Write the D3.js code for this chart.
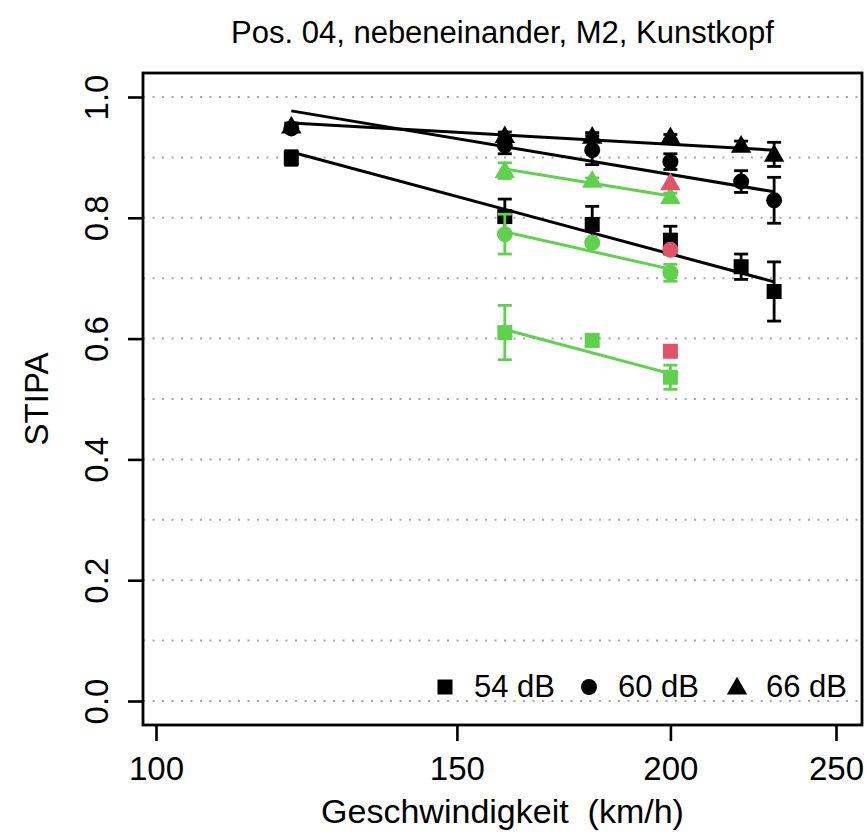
<!DOCTYPE html>
<html><head><meta charset="utf-8">
<script src="https://cdn.jsdelivr.net/npm/d3@7"></script>
<style>body{margin:0;background:#fff}svg{display:block}text{font-family:"Liberation Sans",Arial,sans-serif;fill:#000}</style>
</head><body><div id="chart"></div>
<script>
// ---- data ----
const title = "Pos. 04, nebeneinander, M2, Kunstkopf";
const xLabel = "Geschwindigkeit  (km/h)";
const yLabel = "STIPA";
const xTicks = [100, 150, 200, 250];
const yTicks = [0, 0.2, 0.4, 0.6, 0.8, 1.0];
const gridValues = [0, 0.1, 0.2, 0.3, 0.4, 0.5, 0.6, 0.7, 0.8, 0.9, 1.0];
const levels = ["54 dB", "60 dB", "66 dB"];
const shapes = ["square", "circle", "triangle"];

const blackSpeeds = [120, 160, 180, 200, 220, 230];
const black54 = [0.899, 0.802, 0.789, 0.763, 0.719, 0.678];
const black54Err = [0.012, 0.029, 0.030, 0.023, 0.021, 0.049];
const black60 = [0.948, 0.920, 0.912, 0.893, 0.860, 0.829];
const black60Err = [0.005, 0.014, 0.024, 0.013, 0.018, 0.038];
const black66 = [0.952, 0.936, 0.935, 0.934, 0.920, 0.905];
const black66Err = [0.005, 0.006, 0.006, 0.004, 0.007, 0.020];

const greenSpeeds = [160, 180, 200];
const green54 = [0.610, 0.597, 0.536];
const green54Err = [0.045, 0.004, 0.020];
const green60 = [0.773, 0.759, 0.709];
const green60Err = [0.033, 0.004, 0.014];
const green66 = [0.878, 0.862, 0.835];
const green66Err = [0.013, 0.004, 0.006];

const redSpeeds = [200];
const red54 = [0.579];
const red60 = [0.747];
const red66 = [0.858];

// fitted regression lines: values at first and last speed
const blackFitX = [120, 230];
const blackFit54 = [0.909, 0.694];
const blackFit60 = [0.977, 0.843];
const blackFit66 = [0.957, 0.912];
const greenFitX = [160, 200];
const greenFit54 = [0.615, 0.542];
const greenFit60 = [0.777, 0.715];
const greenFit66 = [0.881, 0.836];

// ---- layout ----
const W = 867, H = 836;
const box = {l: 143, r: 862, t: 73, b: 725};
const BLACK = "#000000", GREEN = "#61D04F", RED = "#DF536B";
const FONT = '"Liberation Sans",Arial,sans-serif';

const svg = d3.select("#chart").append("svg").attr("width", W).attr("height", H);
const x = d3.scaleLog().domain([100, 250]).range([156, 836]);
const y = d3.scaleLinear().domain([0, 1]).range([701, 97]);

// grid
svg.append("g").selectAll("line").data(gridValues).join("line")
  .attr("x1", box.l).attr("x2", box.r)
  .attr("y1", d => y(d)).attr("y2", d => y(d))
  .attr("stroke", "#a8a8a8").attr("stroke-width", 2)
  .attr("stroke-dasharray", "2,7.5");

// axes
const yAxis = d3.axisLeft(y).tickValues(yTicks).tickSize(15).tickFormat(d3.format(".1f"));
const gy = svg.append("g").attr("transform", `translate(${box.l},0)`).call(yAxis);
gy.select(".domain").remove();
gy.selectAll(".tick line").attr("stroke", "#000").attr("stroke-width", 2.6);
gy.selectAll(".tick text").attr("x", 0).attr("dy", 0).attr("dx", 0)
  .attr("transform", "translate(-35,0) rotate(-90)").attr("text-anchor", "middle")
  .style("font-size", "33px").style("font-family", FONT);

const xAxis = d3.axisBottom(x).tickValues(xTicks).tickSize(16).tickFormat(d3.format("d"));
const gx = svg.append("g").attr("transform", `translate(0,${box.b})`).call(xAxis);
gx.select(".domain").remove();
gx.selectAll(".tick line").attr("stroke", "#000").attr("stroke-width", 2.6);
gx.selectAll(".tick text").attr("y", 55).attr("dy", 0)
  .style("font-size", "33px").style("font-family", FONT);

// box
svg.append("rect").attr("x", box.l).attr("y", box.t)
  .attr("width", box.r - box.l).attr("height", box.b - box.t)
  .attr("fill", "none").attr("stroke", "#000").attr("stroke-width", 2.8);

// titles
svg.append("text").attr("x", (box.l + box.r) / 2).attr("y", 43)
  .attr("text-anchor", "middle").style("font-size", "31px").text(title);
svg.append("text").attr("x", (box.l + box.r) / 2).attr("y", 823)
  .attr("text-anchor", "middle").style("font-size", "34px").style("white-space", "pre").text(xLabel);
svg.append("text").attr("transform", `translate(48,${(box.t + box.b) / 2}) rotate(-90)`)
  .attr("text-anchor", "middle").style("font-size", "33px").text(yLabel);

// markers
const symSize = {square: 225, circle: 200, triangle: 180};
const symType = {square: d3.symbolSquare, circle: d3.symbolCircle, triangle: d3.symbolTriangle};
function marker(g, shape, cx, cy, color) {
  g.append("path").attr("d", d3.symbol().type(symType[shape]).size(symSize[shape])())
    .attr("transform", `translate(${cx},${cy + (shape === "triangle" ? 1.5 : 0)})`)
    .attr("fill", color);
}
function fitLine(g, xs, vals, color) {
  g.append("line").attr("x1", x(xs[0])).attr("x2", x(xs[1]))
    .attr("y1", y(vals[0])).attr("y2", y(vals[1]))
    .attr("stroke", color).attr("stroke-width", 3);
}
function series(g, xs, vals, errs, shape, color) {
  xs.forEach((s, i) => {
    if (errs) {
      const cx = x(s), y0 = y(vals[i] - errs[i]), y1 = y(vals[i] + errs[i]);
      g.append("line").attr("x1", cx).attr("x2", cx).attr("y1", y0).attr("y2", y1)
        .attr("stroke", color).attr("stroke-width", 2.8);
      [y0, y1].forEach(yy => g.append("line").attr("x1", cx - 7).attr("x2", cx + 7)
        .attr("y1", yy).attr("y2", yy).attr("stroke", color).attr("stroke-width", 2.8));
    }
    marker(g, shape, x(s), y(vals[i]), color);
  });
}

const gBlack = svg.append("g");
fitLine(gBlack, blackFitX, blackFit54, BLACK);
fitLine(gBlack, blackFitX, blackFit60, BLACK);
fitLine(gBlack, blackFitX, blackFit66, BLACK);
series(gBlack, blackSpeeds, black54, black54Err, "square", BLACK);
series(gBlack, blackSpeeds, black60, black60Err, "circle", BLACK);
series(gBlack, blackSpeeds, black66, black66Err, "triangle", BLACK);

const gGreen = svg.append("g");
fitLine(gGreen, greenFitX, greenFit54, GREEN);
fitLine(gGreen, greenFitX, greenFit60, GREEN);
fitLine(gGreen, greenFitX, greenFit66, GREEN);
series(gGreen, greenSpeeds, green54, green54Err, "square", GREEN);
series(gGreen, greenSpeeds, green60, green60Err, "circle", GREEN);
series(gGreen, greenSpeeds, green66, green66Err, "triangle", GREEN);

const gRed = svg.append("g");
series(gRed, redSpeeds, red54, null, "square", RED);
series(gRed, redSpeeds, red60, null, "circle", RED);
series(gRed, redSpeeds, red66, null, "triangle", RED);

// legend
const legendX = [445, 589, 737];
const gLeg = svg.append("g");
levels.forEach((lab, i) => {
  marker(gLeg, shapes[i], legendX[i], 687, BLACK);
  gLeg.append("text").attr("x", legendX[i] + 29).attr("y", 697)
    .style("font-size", "31px").text(lab);
});
</script></body></html>
